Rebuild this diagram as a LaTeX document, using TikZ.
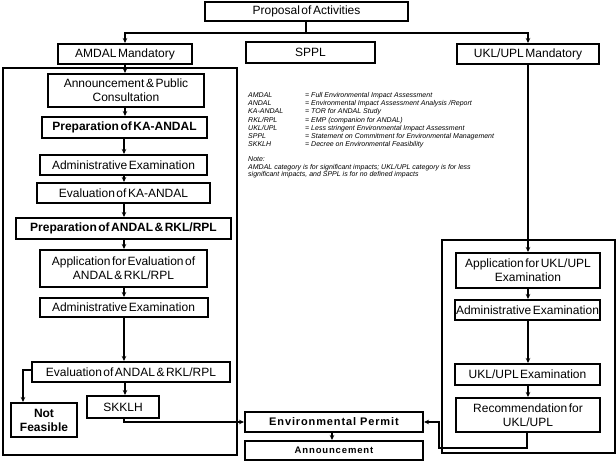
\documentclass[tikz,border=0pt]{standalone}
\usepackage{fontspec}
\setmainfont{Liberation Sans}
\newfontfamily\boxfont{Liberation Sans}[WordSpace=0.45]
\usetikzlibrary{arrows.meta}
\begin{document}
\begin{tikzpicture}[x=1pt,y=-1pt,
  box/.style={draw,line width=2pt,inner sep=0pt,align=center,
    font=\boxfont\fontsize{12}{14}\selectfont},
  boldbox/.style={box,font=\boxfont\fontsize{12}{14}\selectfont\bfseries},
  frame/.style={draw,line width=1.6pt},
  conn/.style={line width=2pt,-{Stealth[length=5pt,width=4.5pt]}},
  line/.style={line width=2pt},
  leg/.style={anchor=base west,inner sep=0pt,font=\fontsize{7}{8}\selectfont\itshape}]
\useasboundingbox (0,0) rectangle (616,462);
% frames
\draw[frame] (3,68) rectangle (237,455);
\draw[frame] (442,240) rectangle (615,453);
% top
\node[box,minimum width=203pt,minimum height=19pt] (prop) at (306.5,11.5) {Proposal of Activities};
\node[box,minimum width=134pt,minimum height=20pt] (amdal) at (125,54) {AMDAL Mandatory};
\node[box,minimum width=129pt,minimum height=21pt] (sppl) at (310.5,52.5) {SPPL};
\node[box,minimum width=142pt,minimum height=20pt] (uklm) at (528,54) {UKL/UPL Mandatory};
% left column
\node[box,minimum width=156pt,minimum height=33pt] (a1) at (126,90.5) {Announcement \& Public\\Consultation};
\node[boldbox,minimum width=165pt,minimum height=21pt] (a2) at (124.5,127.5) {Preparation of KA-ANDAL};
\node[box,minimum width=167pt,minimum height=20pt] (a3) at (123.5,165) {Administrative Examination};
\node[box,minimum width=173pt,minimum height=20pt] (a4) at (123.5,193) {Evaluation of KA-ANDAL};
\node[boldbox,minimum width=215pt,minimum height=21pt] (a5) at (123.5,228.5) {Preparation of ANDAL \& RKL/RPL};
\node[box,minimum width=167pt,minimum height=37pt] (a6) at (123.5,268.5) {Application for Evaluation of\\ANDAL \& RKL/RPL};
\node[box,minimum width=168pt,minimum height=19pt] (a7) at (123.5,307.5) {Administrative Examination};
\node[box,minimum width=198pt,minimum height=20pt] (a8) at (131,372) {Evaluation of ANDAL \& RKL/RPL};
\node[boldbox,minimum width=66pt,minimum height=34pt] (nf) at (44,420) {Not\\Feasible};
\node[box,minimum width=72pt,minimum height=22pt] (sk) at (123,407) {SKKLH};
% bottom centre
\node[box,minimum width=178pt,minimum height=20pt,
  font=\fontsize{11}{13}\selectfont\bfseries\addfontfeatures{LetterSpace=8}] (ep) at (334,422) {Environmental Permit};
\node[box,minimum width=178pt,minimum height=19pt,
  font=\fontsize{9.5}{11}\selectfont\bfseries\addfontfeatures{LetterSpace=9}] (an) at (334,450.5) {Announcement};
% right column
\node[box,minimum width=144pt,minimum height=35pt] (b1) at (528,270.5) {Application for UKL/UPL\\Examination};
\node[box,minimum width=145pt,minimum height=20pt] (b2) at (527.5,310) {Administrative Examination};
\node[box,minimum width=145pt,minimum height=21pt] (b3) at (527.5,374.5) {UKL/UPL Examination};
\node[box,minimum width=144pt,minimum height=34pt] (b4) at (528,415) {Recommendation for\\UKL/UPL};
% legend
\node[leg] (l1a) at (248,98) {AMDAL};
\node[leg] (l1b) at (305,98) {= Full Environmental Impact Assessment};
\node[leg] (l2a) at (248,106) {ANDAL};
\node[leg] (l2b) at (305,106) {= Environmental Impact Assessment Analysis /Report};
\node[leg] (l3a) at (248,114) {KA-ANDAL};
\node[leg] (l3b) at (305,114) {= TOR for ANDAL Study};
\node[leg] (l4a) at (248,122.5) {RKL/RPL};
\node[leg] (l4b) at (305,122.5) {= EMP (companion for ANDAL)};
\node[leg] (l5a) at (248,131) {UKL/UPL};
\node[leg] (l5b) at (305,131) {= Less stringent Environmental Impact Assessment};
\node[leg] (l6a) at (248,139) {SPPL};
\node[leg] (l6b) at (305,139) {= Statement on Commitment for Environmental Management};
\node[leg] (l7a) at (248,147) {SKKLH};
\node[leg] (l7b) at (305,147) {= Decree on Environmental Feasibility};
\node[leg] (n1) at (248,162) {Note:};
\node[leg] (n2) at (248,169.5) {AMDAL category is for significant impacts; UKL/UPL category is for less};
\node[leg] (n3) at (248,177) {significant impacts, and SPPL is for no defined impacts};
% connectors
\coordinate (j) at (306,33);
\draw[line] (prop.south -| j) -- (j);
\draw[conn] (j) -| (amdal.north -| 125,0);
\draw[conn] (j) -| (uklm.north -| 528,0);
\draw[conn] (amdal.south -| 125,0) -- (a1.north -| 125,0);
\draw[conn] (a1.south -| 125,0) -- (a2.north -| 125,0);
\draw[conn] (a2.south -| 124,0) -- (a3.north -| 124,0);
\draw[conn] (a3.south -| 124,0) -- (a4.north -| 124,0);
\draw[conn] (a4.south -| 124,0) -- (a5.north -| 124,0);
\draw[conn] (a5.south -| 124,0) -- (a6.north -| 124,0);
\draw[conn] (a6.south -| 124,0) -- (a7.north -| 124,0);
\draw[conn] (a7.south -| 124,0) -- (a8.north -| 124,0);
\coordinate (nfk) at (23,370);
\draw[conn] (a8.west |- nfk) -- (nfk) -- (nfk |- nf.north);
\draw[conn] (a8.south -| 125,0) -- (sk.north -| 125,0);
\coordinate (skk) at (124,422);
\draw[conn] (sk.south -| skk) -- (skk) -- (ep.west);
\draw[conn] (ep.south -| 332,0) -- (an.north -| 332,0);
\draw[conn] (uklm.south -| 528,0) -- (b1.north -| 528,0);
\draw[conn] (b1.south -| 528,0) -- (b2.north -| 528,0);
\draw[conn] (b2.south -| 528,0) -- (b3.north -| 528,0);
\draw[conn] (b3.south -| 528,0) -- (b4.north -| 528,0);
\coordinate (r1) at (527,448);
\coordinate (r2) at (439,448);
\draw[conn] (b4.south -| r1) -- (r1) -- (r2) |- (ep.east);
\end{tikzpicture}
\end{document}
